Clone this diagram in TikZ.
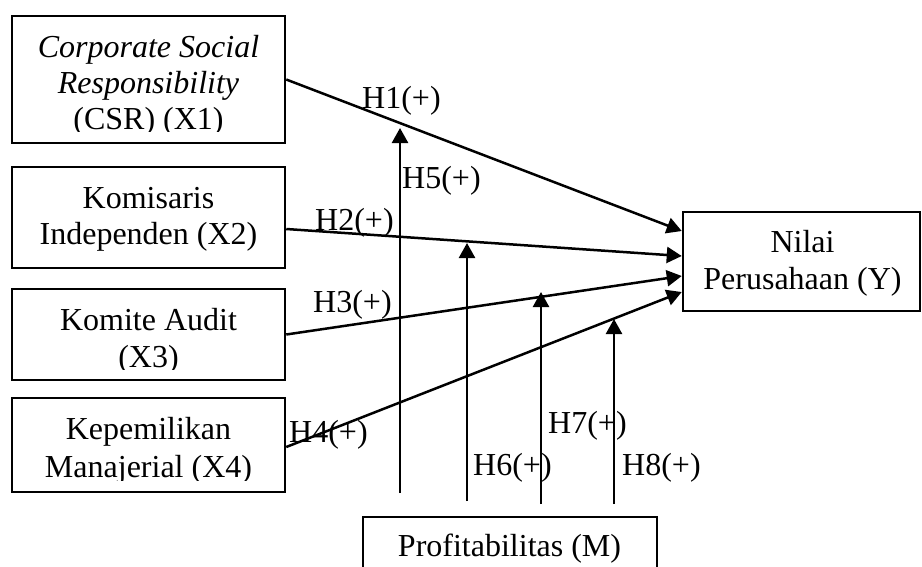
\documentclass[tikz,border=0pt]{standalone}
\usepackage{fontspec}
\setmainfont{Liberation Serif}
\usetikzlibrary{arrows.meta}
\begin{document}
\begin{tikzpicture}[x=1pt,y=-1pt,
  box/.style={draw, line width=2.5pt, rectangle, inner sep=0pt},
  txt/.style={inner sep=0pt, anchor=base, font=\fontsize{32}{36}\selectfont},
  lbl/.style={inner sep=0pt, anchor=base west, font=\fontsize{32}{36}\selectfont},
  conn/.style={line width=2.5pt, -{Triangle[length=15pt,width=16pt]}}]
\useasboundingbox (0,0) rectangle (922,566);
% boxes
\node[box, minimum width=273pt, minimum height=127pt] (x1) at (148.5,79.5) {};
\node[box, minimum width=273pt, minimum height=101pt] (x2) at (148.5,217.5) {};
\node[box, minimum width=273pt, minimum height=91pt] (x3) at (148.5,334.5) {};
\node[box, minimum width=273pt, minimum height=94pt] (x4) at (148.5,445) {};
\node[box, minimum width=237pt, minimum height=99pt] (y) at (801.5,261.5) {};
\node[box, minimum width=294pt, minimum height=70pt] (m) at (510,552) {};
% box texts
\begin{scope}
\clip (12,16) rectangle (285,131.5);
\node[txt] (t1a) at (148.5,57) {\itshape Corporate Social};
\node[txt] (t1b) at (148.5,93) {\itshape Responsibility};
\node[txt] (t1c) at (148.5,129) {(CSR) (X1)};
\end{scope}
\node[txt] (t2a) at (148.5,208) {Komisaris};
\node[txt] (t2b) at (148.5,244) {Independen (X2)};
\begin{scope}
\clip (12,289) rectangle (285,369);
\node[txt] (t3a) at (148.5,330) {Komite Audit};
\node[txt] (t3b) at (148.5,367) {(X3)};
\end{scope}
\begin{scope}
\clip (12,398) rectangle (285,480.5);
\node[txt] (t4a) at (148.5,439) {Kepemilikan};
\node[txt] (t4b) at (148.5,477.5) {Manajerial (X4)};
\end{scope}
\node[txt] (tya) at (802.5,252) {Nilai};
\node[txt] (tyb) at (802.5,289.5) {Perusahaan (Y)};
\node[txt] (tm) at (509.5,556) {Profitabilitas (M)};
% labels
\node[lbl] (h1) at (362,108) {H1(+)};
\node[lbl] (h5) at (402,188) {H5(+)};
\node[lbl] (h2) at (315,230) {H2(+)};
\node[lbl] (h3) at (313,312) {H3(+)};
\node[lbl] (h4) at (289,442) {H4(+)};
\node[lbl] (h6) at (473,475) {H6(+)};
\node[lbl] (h7) at (548,433) {H7(+)};
\node[lbl] (h8) at (622,475) {H8(+)};
% connectors to Y
\draw[conn] (x1.east) -- ([yshift=30.5pt]y.west);
\draw[conn] ([yshift=-11.5pt]x2.east) -- ([yshift=5.5pt]y.west);
\draw[conn] (x3.east) -- ([yshift=-14.5pt]y.west);
\draw[conn] ([yshift=-2pt]x4.east) -- ([yshift=-30.5pt]y.west);
% moderating arrows
\coordinate (m5s) at (400,493);
\coordinate (m5e) at (400,128);
\coordinate (m6s) at (467,501);
\coordinate (m6e) at (467,243);
\coordinate (m7s) at (541,504);
\coordinate (m7e) at (541,292);
\coordinate (m8s) at (614,504);
\coordinate (m8e) at (614,319);
\draw[conn] (m5s) -- (m5e);
\draw[conn] (m6s) -- (m6e);
\draw[conn] (m7s) -- (m7e);
\draw[conn] (m8s) -- (m8e);
\end{tikzpicture}
\end{document}
